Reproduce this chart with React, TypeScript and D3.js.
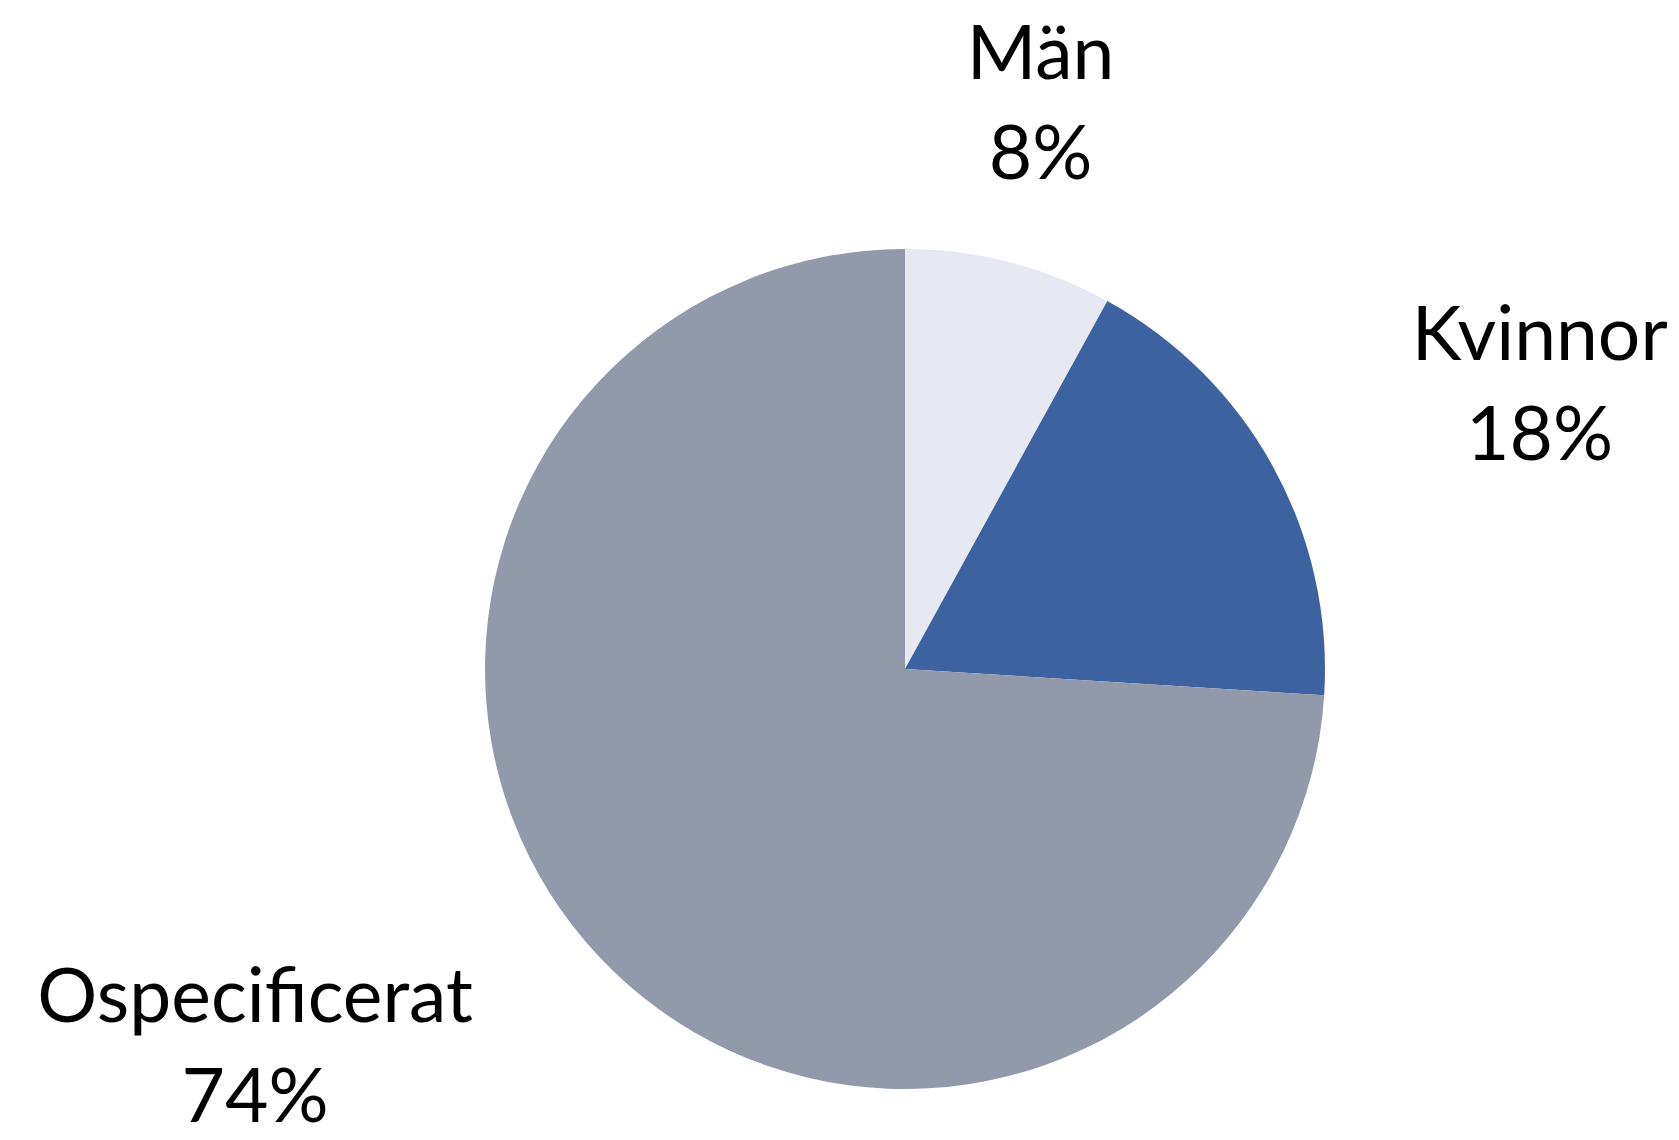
import React, { useEffect, useRef } from 'react';
import * as d3 from 'd3';

// data
const categories = ['Män', 'Kvinnor', 'Ospecificerat'];
const shares = [8, 18, 74];
const colors = ['#E6E9F2', '#3C62A0', '#9199AB'];

// label nudges from the outer centroid (layout only)
const labelNudge = [[-16, 0], [101, -16], [-206, -64]];

const W = 1679;
const H = 1140;

const App = () => {
  const svgRef = useRef(null);

  useEffect(() => {
    document.body.style.margin = '0';
    const svg = d3.select(svgRef.current);
    svg.selectAll('*').remove();

    const cx = 905;
    const cy = 669;
    const radius = 420;

    const pie = d3.pie<number>().sort(null).value(d => d);
    const arcs = pie(shares);

    const arc = d3.arc<d3.PieArcDatum<number>>()
      .innerRadius(0)
      .outerRadius(radius);

    const labelArc = d3.arc<d3.PieArcDatum<number>>()
      .innerRadius(radius * 1.45)
      .outerRadius(radius * 1.45);

    const g = svg.append('g').attr('transform', `translate(${cx},${cy})`);

    g.selectAll('path')
      .data(arcs)
      .join('path')
      .attr('d', arc)
      .attr('fill', (d, i) => colors[i]);

    const labels = g.selectAll('text')
      .data(arcs)
      .join('text')
      .attr('text-anchor', 'middle')
      .style('font-family', 'Lato, "Noto Sans", sans-serif')
      .style('font-size', '75px')
      .attr('fill', '#000')
      .attr('transform', (d, i) => {
        const [x, y] = labelArc.centroid(d);
        return `translate(${x + labelNudge[i][0]},${y + labelNudge[i][1]})`;
      });

    labels.append('tspan')
      .attr('x', 0)
      .attr('y', 0)
      .text((d, i) => categories[i]);

    labels.append('tspan')
      .attr('x', 0)
      .attr('y', 100)
      .text(d => `${d.data}%`);
  }, []);

  return <svg ref={svgRef} width={W} height={H} style={{ display: 'block' }} />;
};

export default App;
